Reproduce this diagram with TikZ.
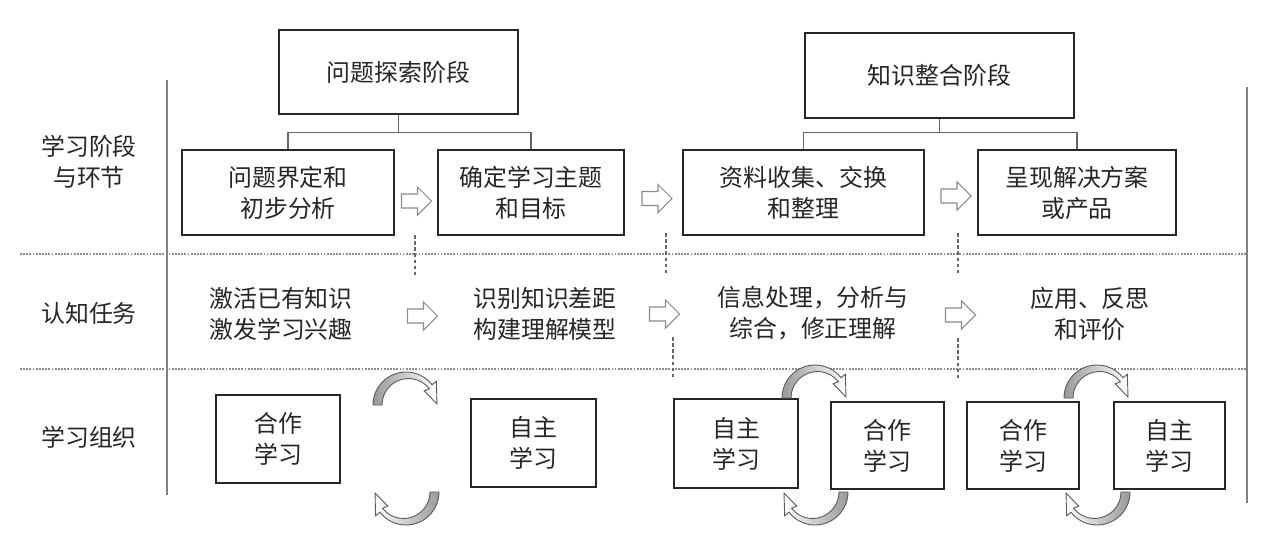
\documentclass[tikz,border=0pt]{standalone}
\usepackage{fontspec}
\setmainfont{Noto Sans CJK SC}

\tikzset{
  box/.style={draw=black!85, line width=0.9pt, align=center, inner sep=0pt, text=black!85, font=\fontsize{13.6}{17.6}\selectfont},
  txt/.style={align=center, inner sep=0pt, text=black!85, font=\fontsize{13.6}{17.6}\selectfont},
  link/.style={draw=black!60, line width=0.6pt},
  rowline/.style={draw=black!45, line width=0.6pt, dash pattern=on 1pt off 0.8pt},
  colline/.style={draw=black!60, line width=0.6pt, dash pattern=on 2pt off 1.5pt},
  border/.style={draw=black!50, line width=0.9pt},
  pics/blockarrow/.style={code={
    \draw[draw=black!45, line width=0.6pt, fill=white] (-0.3,-0.14) -- (0.02,-0.14) -- (0.02,-0.28) -- (0.3,0) -- (0.02,0.28) -- (0.02,0.14) -- (-0.3,0.14) -- cycle;}},
  pics/turnarc/.style={code={
    \draw[draw=black!65, line width=0.5pt, #1] (180:0.66) arc[start angle=180, end angle=38, radius=0.66] -- (38:0.77) -- (0.62,0.02) -- (38:0.46) -- (0.468,0.326) arc[start angle=38, end angle=180, radius=0.53] -- cycle;}},
}

\begin{document}
\begin{tikzpicture}
\useasboundingbox (0,0) rectangle (25.34,10.84);

% row labels
\node[txt] (labstage) at (1.78,7.60) {学习阶段\\与环节};
\node[txt] (labtask) at (1.78,4.58) {认知任务};
\node[txt] (laborg) at (1.78,2.10) {学习组织};

% frame
\draw[border] (3.34,9.24) -- (3.34,0.94);
\draw[border] (24.94,9.10) -- (24.94,0.78);
\draw[rowline] (0.40,5.76) -- (24.94,5.76);
\draw[rowline] (0.40,3.46) -- (24.94,3.46);
\draw[colline] (8.30,6.14) -- (8.30,5.34);
\draw[colline] (13.32,6.18) -- (13.32,5.34);
\draw[colline] (13.46,4.10) -- (13.46,3.28);
\draw[colline] (19.16,6.18) -- (19.16,5.34);
\draw[colline] (19.16,4.08) -- (19.16,3.24);

% stages
\node[box, minimum width=4.78cm, minimum height=1.68cm] (explore) at (7.97,9.40) {问题探索阶段};
\node[box, minimum width=5.38cm, minimum height=1.70cm] (integrate) at (18.79,9.33) {知识整合阶段};

\node[box, minimum width=4.24cm, minimum height=1.70cm] (define) at (5.76,6.99) {问题界定和\\初步分析};
\node[box, minimum width=3.72cm, minimum height=1.70cm] (goal) at (10.62,6.99) {确定学习主题\\和目标};
\node[box, minimum width=4.82cm, minimum height=1.70cm] (gather) at (16.07,6.99) {资料收集、交换\\和整理};
\node[box, minimum width=3.96cm, minimum height=1.70cm] (present) at (21.54,6.99) {呈现解决方案\\或产品};

\draw[link] (explore.south) -- ++(0,-0.36) coordinate (j1);
\draw[link] (define.north) |- (j1) -| (goal.north);
\draw[link] (integrate.south) -- ++(0,-0.28) coordinate (j2);
\draw[link] (gather.north) |- (j2) -| (present.north);

\pic at (8.33,6.82) {blockarrow};
\pic at (13.14,6.87) {blockarrow};
\pic at (19.12,6.92) {blockarrow};

% cognitive tasks
\node[txt] (activate) at (5.62,4.57) {激活已有知识\\激发学习兴趣};
\node[txt] (identify) at (10.90,4.57) {识别知识差距\\构建理解模型};
\node[txt] (process) at (16.26,4.57) {信息处理，分析与\\综合，修正理解};
\node[txt] (apply) at (21.80,4.57) {应用、反思\\和评价};

\pic at (8.45,4.52) {blockarrow};
\pic at (13.29,4.56) {blockarrow};
\pic at (19.21,4.54) {blockarrow};

% organisation
\node[box, minimum width=2.48cm, minimum height=1.76cm] (coopA) at (5.56,2.06) {合作\\学习};
\node[box, minimum width=2.50cm, minimum height=1.76cm] (selfA) at (10.67,1.98) {自主\\学习};
\node[box, minimum width=2.48cm, minimum height=1.78cm] (selfB) at (14.72,1.97) {自主\\学习};
\node[box, minimum width=2.26cm, minimum height=1.74cm] (coopB) at (17.75,1.93) {合作\\学习};
\node[box, minimum width=2.24cm, minimum height=1.74cm] (coopC) at (20.46,1.93) {合作\\学习};
\node[box, minimum width=2.22cm, minimum height=1.74cm] (selfC) at (23.39,1.93) {自主\\学习};

\pic at (8.12,2.74) {turnarc={left color=black!40, middle color=white, right color=white}};
\pic[rotate=180] at (8.12,1.00) {turnarc={right color=black!40, middle color=white, left color=white}};
\pic at (16.30,2.88) {turnarc={left color=black!40, middle color=white, right color=white}};
\pic[rotate=180] at (16.30,1.00) {turnarc={right color=black!40, middle color=white, left color=white}};
\pic at (21.94,2.88) {turnarc={left color=black!40, middle color=white, right color=white}};
\pic[rotate=180] at (21.94,1.00) {turnarc={right color=black!40, middle color=white, left color=white}};
\end{tikzpicture}
\end{document}
